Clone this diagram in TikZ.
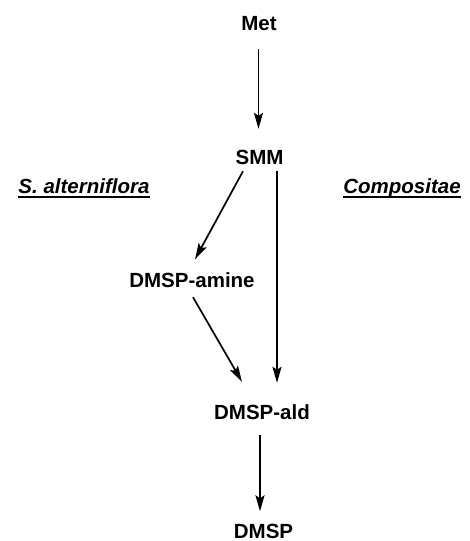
\documentclass[tikz,border=0pt]{standalone}
\usepackage{fontspec}
\setmainfont{Liberation Sans}
\usetikzlibrary{arrows.meta}
\begin{document}
\begin{tikzpicture}[x=1pt,y=1pt,
  lbl/.style={font=\fontsize{20.5}{24}\selectfont\bfseries, inner sep=0pt, text height=15pt, text depth=0pt, anchor=center},
  spc/.style={lbl, font=\fontsize{20.5}{24}\selectfont\bfseries\itshape},
  arr/.style={line width=1.7pt, -{Stealth[length=16pt,width=9pt,inset=3pt]}},
  uline/.style={line width=1.8pt}]
\useasboundingbox (0,0) rectangle (470,-541);
\node[lbl] (met) at (259,-22.5) {Met};
\node[lbl] (smm) at (259.5,-156.5) {SMM};
\node[lbl] (amine) at (192,-280) {DMSP-amine};
\node[lbl] (ald) at (262,-412) {DMSP-ald};
\node[lbl] (dmsp) at (263.5,-530.5) {DMSP};
\node[spc] (sa) at (84,-186) {S. alterniflora};
\node[spc] (comp) at (402,-186) {Compositae};
\draw[uline] ([yshift=-3pt]sa.south west) -- ([yshift=-3pt]sa.south east);
\draw[uline] ([yshift=-3pt]comp.south west) -- ([yshift=-3pt]comp.south east);
\draw[arr] ([xshift=-0.5pt,yshift=-19pt]met.south) -- ([xshift=-1pt,yshift=20pt]smm.north);
\draw[arr] ([xshift=-16.5pt,yshift=-7pt]smm.south) -- ([xshift=3pt,yshift=13pt]amine.north);
\draw[arr] ([xshift=17.5pt,yshift=-7pt]smm.south) -- ([xshift=15pt,yshift=21.5pt]ald.north);
\draw[arr] ([xshift=1pt,yshift=-9.5pt]amine.south) -- ([xshift=-20pt,yshift=22.5pt]ald.north);
\draw[arr] ([xshift=-2pt,yshift=-15.5pt]ald.south) -- ([xshift=-3.5pt,yshift=11.5pt]dmsp.north);
\end{tikzpicture}
\end{document}
